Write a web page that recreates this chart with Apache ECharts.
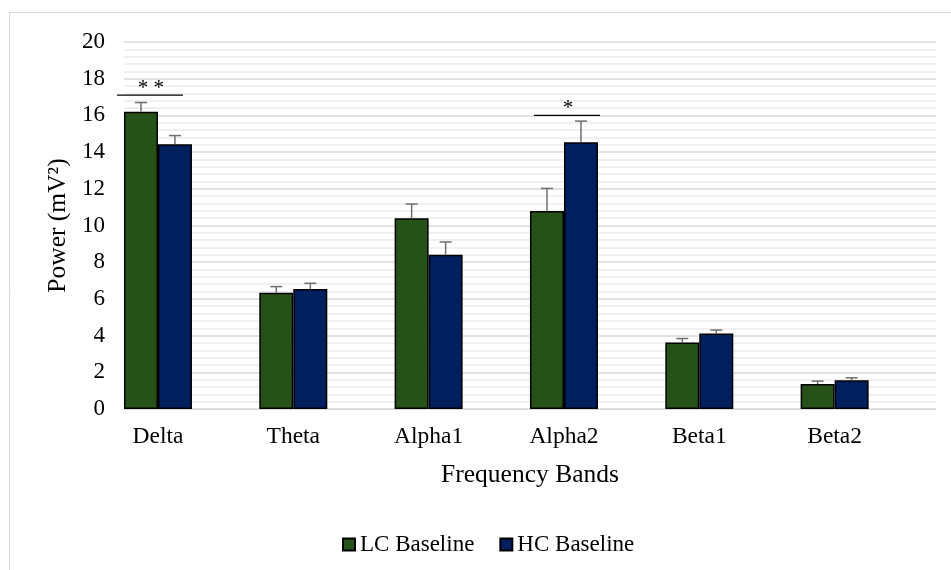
<!DOCTYPE html>
<html>
<head>
<meta charset="utf-8">
<style>
  html, body { margin: 0; padding: 0; background: #fff; }
  #chart { width: 951px; height: 570px; }
</style>
<script src="https://cdn.jsdelivr.net/npm/echarts@6/dist/echarts.min.js"></script>
</head>
<body>
<div id="chart"></div>
<script>
// Frequency bands and mean power per group, with SEM for the upper error bar
const categories = ['Delta', 'Theta', 'Alpha1', 'Alpha2', 'Beta1', 'Beta2'];
const lcMean = [16.2, 6.34, 10.39, 10.79, 3.62, 1.36];
const lcErr  = [0.5, 0.33, 0.78, 1.23, 0.22, 0.16];
const hcMean = [14.43, 6.54, 8.41, 14.54, 4.11, 1.56];
const hcErr  = [0.47, 0.31, 0.69, 1.15, 0.19, 0.14];

// Significance brackets: band, level of the bar line, marker text
const sigCats   = ['Delta', 'Alpha2'];
const sigLevels = [17.1, 16.0];
const sigMarks  = ['* *', '*'];

const yTicks = { min: 0, max: 20, step: 2 };

const FONT = '"Liberation Serif", "Times New Roman", serif';
const LC_COLOR = '#265118';
const HC_COLOR = '#001f5e';
const BAR_W = 34;

// horizontal nudge (px) of each bracket relative to its bar pair
const sigNudge = { Delta: -8, Alpha2: 3 };

const chart = echarts.init(document.getElementById('chart'), null, { renderer: 'canvas' });

function errorBarItem(offset) {
  return function (params, api) {
    const base = api.coord([api.value(0), api.value(1)]);
    const top = api.coord([api.value(0), api.value(1) + api.value(2)]);
    const x = base[0] + offset;
    const style = { stroke: '#6f6f6f', lineWidth: 1.5 };
    return {
      type: 'group',
      children: [
        { type: 'line', shape: { x1: x, y1: base[1], x2: x, y2: top[1] }, style },
        { type: 'line', shape: { x1: x - 6, y1: top[1], x2: x + 6, y2: top[1] }, style }
      ]
    };
  };
}

const option = {
  animation: false,
  backgroundColor: '#fff',
  graphic: [{
    type: 'rect',
    shape: { x: 9.5, y: 12.5, width: 1000, height: 1000 },
    style: { fill: 'none', stroke: '#d9d9d9', lineWidth: 1 },
    silent: true, z: -10
  }],
  grid: [
    { left: 90.3, width: 812, top: 42, bottom: 161 },   // bars
    { left: 124, right: 15, top: 42, bottom: 161 }      // gridlines and value axis
  ],
  legend: {
    data: ['LC Baseline', 'HC Baseline'],
    top: 528,
    left: 337,
    itemWidth: 12,
    itemHeight: 12,
    itemGap: 25,
    icon: 'rect',
    textStyle: { fontFamily: FONT, fontSize: 23, color: '#000' }
  },
  xAxis: [
    {
      type: 'category', gridIndex: 0, data: categories,
      axisLine: { show: false }, axisTick: { show: false },
      axisLabel: { fontFamily: FONT, fontSize: 23.5, color: '#000', margin: 16 }
    },
    {
      type: 'value', gridIndex: 1, min: 0, max: 1,
      axisLine: { show: true, lineStyle: { color: '#d9d9d9', width: 1 } },
      axisTick: { show: false }, axisLabel: { show: false }, splitLine: { show: false },
      name: 'Frequency Bands', nameLocation: 'middle', nameGap: 53,
      nameTextStyle: { fontFamily: FONT, fontSize: 25.5, color: '#000' }
    }
  ],
  yAxis: [
    {
      type: 'value', gridIndex: 0, min: yTicks.min, max: yTicks.max, interval: yTicks.step,
      show: false
    },
    {
      type: 'value', gridIndex: 1, min: yTicks.min, max: yTicks.max, interval: yTicks.step,
      axisLine: { show: false }, axisTick: { show: false },
      axisLabel: { fontFamily: FONT, fontSize: 23, color: '#000', margin: 19 },
      splitLine: { show: true, lineStyle: { color: '#d9d9d9', width: 1.5 } },
      minorTick: { show: false, splitNumber: 5 },
      minorSplitLine: { show: true, lineStyle: { color: '#ececec', width: 1.5 } },
      name: 'Power (mV²)', nameLocation: 'middle', nameGap: 47, nameRotate: 90,
      nameTextStyle: { fontFamily: FONT, fontSize: 25.5, color: '#000' }
    }
  ],
  series: [
    {
      name: 'LC Baseline', type: 'bar', xAxisIndex: 0, yAxisIndex: 0,
      data: lcMean, barWidth: BAR_W, barGap: '0%',
      itemStyle: { color: LC_COLOR, borderColor: '#000', borderWidth: 1.5 },
      z: 3
    },
    {
      name: 'HC Baseline', type: 'bar', xAxisIndex: 0, yAxisIndex: 0,
      data: hcMean, barWidth: BAR_W, barGap: '0%',
      itemStyle: { color: HC_COLOR, borderColor: '#000', borderWidth: 1.5 },
      z: 3
    },
    {
      type: 'custom', name: 'LC error', xAxisIndex: 0, yAxisIndex: 0,
      data: categories.map((c, i) => [i, lcMean[i], lcErr[i]]),
      renderItem: errorBarItem(-BAR_W / 2), z: 4, silent: true
    },
    {
      type: 'custom', name: 'HC error', xAxisIndex: 0, yAxisIndex: 0,
      data: categories.map((c, i) => [i, hcMean[i], hcErr[i]]),
      renderItem: errorBarItem(BAR_W / 2), z: 4, silent: true
    },
    {
      type: 'custom', name: 'Significance', xAxisIndex: 0, yAxisIndex: 0,
      data: sigCats.map((c, i) => [categories.indexOf(c), sigLevels[i], i]),
      renderItem: function (params, api) {
        const k = api.value(2);
        const p = api.coord([api.value(0), api.value(1)]);
        const cx = p[0] + (sigNudge[sigCats[k]] || 0);
        return {
          type: 'group',
          children: [
            { type: 'line', shape: { x1: cx - 33, y1: p[1], x2: cx + 33, y2: p[1] },
              style: { stroke: '#000', lineWidth: 1.3 } },
            { type: 'text', x: cx + 1, y: p[1] + 4,
              style: { text: sigMarks[k], fontFamily: FONT, fontSize: 21, fill: '#000',
                       align: 'center', verticalAlign: 'bottom' } }
          ]
        };
      },
      z: 5, silent: true
    }
  ]
};

chart.setOption(option);
</script>
</body>
</html>
